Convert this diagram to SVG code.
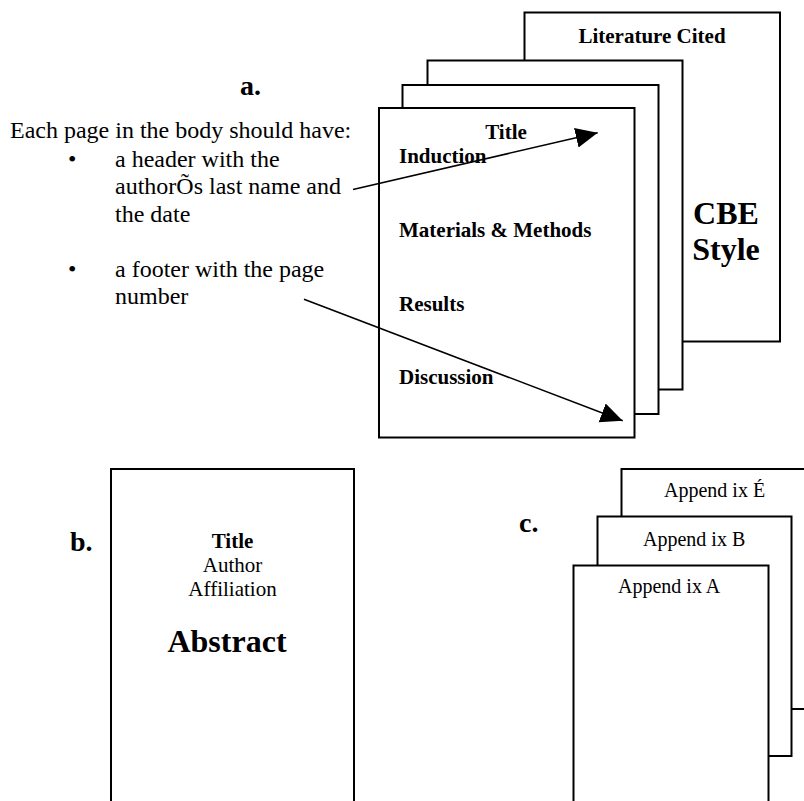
<svg xmlns="http://www.w3.org/2000/svg" width="804" height="801" viewBox="0 0 804 801">
<style>
.pg{fill:#fff;stroke:#000;stroke-width:2}
.t{font-family:"Liberation Serif","Times New Roman",serif;fill:#000}
.b{font-weight:bold}
.lbl{font-family:"Liberation Serif","Times New Roman",serif;font-weight:bold;font-size:28px;fill:#000}
.body{font-family:"Liberation Serif","Times New Roman",serif;font-size:24px;fill:#000}
.sec{font-size:21px;font-weight:bold}
.app{font-size:20px}
.con{stroke:#000;stroke-width:1.6;fill:none}
</style>
<defs>
<marker id="ah" markerUnits="userSpaceOnUse" markerWidth="24" markerHeight="22" refX="22" refY="10" orient="auto">
<path d="M0,0 L22,10 L0,20 Z" fill="#000"/>
</marker>
</defs>
<rect width="804" height="801" fill="#fff"/>

<g id="label-a"><text class="lbl" x="240" y="95">a.</text></g>
<g id="label-b"><text class="lbl" x="70" y="551">b.</text></g>
<g id="label-c"><text class="lbl" x="519" y="532">c.</text></g>

<g id="body-note">
<text class="body" x="10" y="138">Each page in the body should have:</text>
<text class="body" x="68" y="167">•</text>
<text class="body" x="115" y="167">a header with the</text>
<text class="body" x="115" y="194">authorÕs last name and</text>
<text class="body" x="115" y="222">the date</text>
<text class="body" x="68" y="277">•</text>
<text class="body" x="115" y="277">a footer with the page</text>
<text class="body" x="115" y="304">number</text>
</g>

<g id="page-literature-cited">
<rect class="pg" x="524.5" y="12.5" width="255.5" height="329"/>
<text class="t sec" x="652" y="43" text-anchor="middle">Literature Cited</text>
<text class="t b" x="726" y="224" font-size="32" text-anchor="middle">CBE</text>
<text class="t b" x="726" y="260" font-size="32" text-anchor="middle">Style</text>
</g>
<g id="page-body-3"><rect class="pg" x="427.5" y="60.5" width="255" height="329"/></g>
<g id="page-body-2"><rect class="pg" x="402.5" y="85" width="256" height="329"/></g>
<g id="page-body-1">
<rect class="pg" x="379" y="108" width="255.5" height="329.5"/>
<text class="t sec" x="506" y="139" text-anchor="middle">Title</text>
<text class="t sec" x="399" y="163">Induction</text>
<text class="t sec" x="399" y="237">Materials &amp; Methods</text>
<text class="t sec" x="399" y="311">Results</text>
<text class="t sec" x="399" y="384">Discussion</text>
</g>

<g id="page-title-abstract">
<rect class="pg" x="111" y="469" width="243" height="360"/>
<text class="t b" x="232.5" y="548" font-size="21" text-anchor="middle">Title</text>
<text class="t" x="232.5" y="572" font-size="21" text-anchor="middle">Author</text>
<text class="t" x="232.5" y="596" font-size="21" text-anchor="middle">Affiliation</text>
<text class="t b" x="227" y="652" font-size="32" text-anchor="middle">Abstract</text>
</g>

<g id="page-appendix-e">
<rect class="pg" x="621.5" y="469" width="200" height="240"/>
<text class="t app" x="664" y="497">Append ix É</text>
</g>
<g id="page-appendix-b">
<rect class="pg" x="597.5" y="516.5" width="194" height="239.5"/>
<text class="t app" x="643" y="546">Append ix B</text>
</g>
<g id="page-appendix-a">
<rect class="pg" x="573.5" y="565.5" width="195" height="260"/>
<text class="t app" x="618" y="593">Append ix A</text>
</g>

<g id="connectors">
<line class="con" x1="353" y1="189.5" x2="597.7" y2="132.7" marker-end="url(#ah)"/>
<line class="con" x1="304" y1="299.3" x2="622.7" y2="420.7" marker-end="url(#ah)"/>
</g>
</svg>
